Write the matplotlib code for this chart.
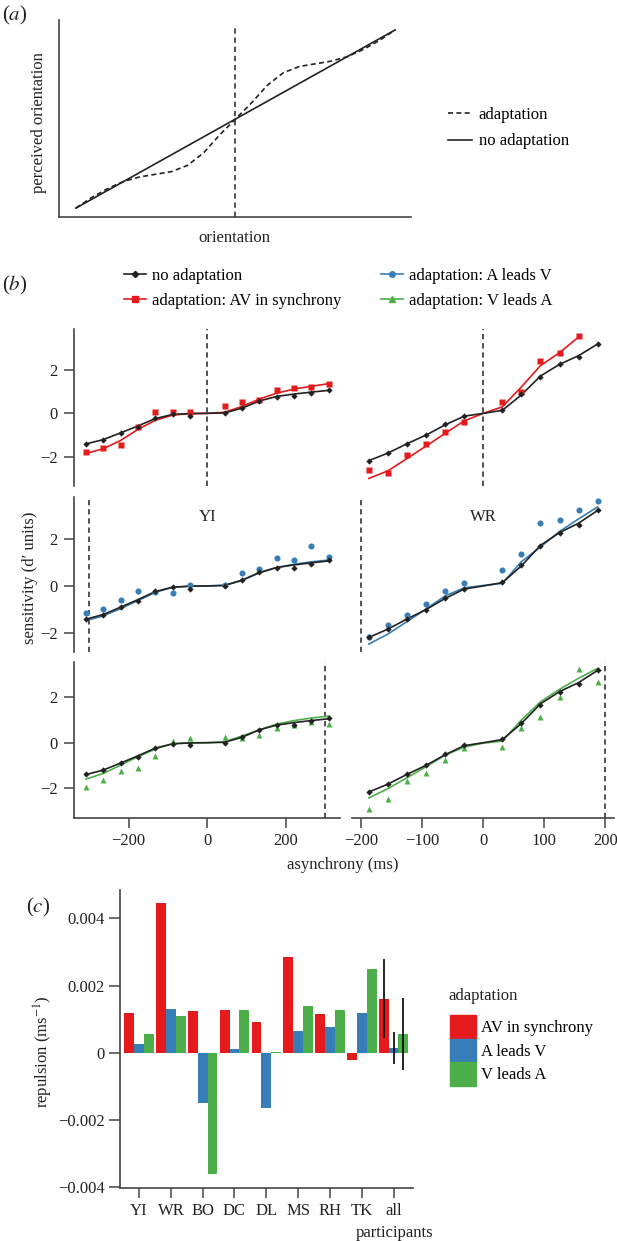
import numpy as np
import matplotlib
matplotlib.use('Agg')
import matplotlib.pyplot as plt
from matplotlib.lines import Line2D
from matplotlib.patches import Patch

plt.rcParams['font.family'] = ['Liberation Serif', 'DejaVu Serif']
plt.rcParams['mathtext.fontset'] = 'stix'
plt.rcParams['font.size'] = 12

RED = '#E41A1C'
BLUE = '#377EB8'
GREEN = '#4DAF4A'
INK = '#222222'
AXC = '#444444'

# ---- (a) schematic ----
orient = [0, 0.05, 0.1, 0.15, 0.2, 0.25, 0.3, 0.35, 0.4, 0.45, 0.5,
          0.55, 0.6, 0.65, 0.7, 0.75, 0.8, 0.85, 0.9, 0.95, 1.0]
perceived_adapt = [0, 0.06, 0.11, 0.15, 0.175, 0.19, 0.205, 0.24, 0.31, 0.41, 0.5,
                   0.59, 0.69, 0.76, 0.795, 0.81, 0.825, 0.85, 0.89, 0.94, 1.0]

# ---- (b) sensitivity data ----
yi_x = [-308.7, -264.6, -220.5, -176.4, -132.3, -88.2, -44.1, 44.1, 88.2, 132.3, 176.4, 220.5, 264.6, 308.7]
yi_cx = [-308.7, -264.6, -220.5, -176.4, -132.3, -88.2, -44.1, 0, 44.1, 88.2, 132.3, 176.4, 220.5, 264.6, 308.7]
yi_none = [-1.40, -1.22, -0.89, -0.63, -0.22, -0.05, -0.11, 0.0, 0.26, 0.58, 0.77, 0.78, 0.95, 1.08]
yi_sync = [-1.78, -1.60, -1.48, -0.65, 0.05, 0.05, 0.05, 0.35, 0.51, 0.63, 1.08, 1.15, 1.20, 1.37]
yi_av = [-1.13, -0.96, -0.59, -0.20, -0.25, -0.31, 0.03, 0.06, 0.55, 0.72, 1.19, 1.12, 1.71, 1.23]
yi_va = [-1.98, -1.67, -1.23, -1.14, -0.58, 0.07, 0.22, 0.27, 0.22, 0.34, 0.66, 0.77, 0.90, 0.81]
yi_fit_none = [-1.41, -1.21, -0.90, -0.58, -0.24, -0.05, -0.01, 0.0, 0.02, 0.24, 0.57, 0.78, 0.89, 0.98, 1.06]
yi_fit_sync = [-1.85, -1.63, -1.25, -0.74, -0.32, -0.08, -0.01, 0.0, 0.05, 0.32, 0.66, 0.93, 1.12, 1.25, 1.37]
yi_fit_av = [-1.47, -1.27, -0.96, -0.62, -0.27, -0.06, -0.01, 0.0, 0.03, 0.24, 0.55, 0.78, 0.92, 1.02, 1.10]
yi_fit_va = [-1.61, -1.36, -0.99, -0.62, -0.28, -0.04, 0.0, 0.0, 0.04, 0.30, 0.57, 0.82, 0.98, 1.09, 1.18]

wr_x = [-187.5, -156.25, -125, -93.75, -62.5, -31.25, 31.25, 62.5, 93.75, 125, 156.25, 187.5]
wr_cx = [-187.5, -156.25, -125, -93.75, -62.5, -31.25, 0, 31.25, 62.5, 93.75, 125, 156.25, 187.5]
wr_none = [-2.18, -1.83, -1.40, -1.00, -0.51, -0.12, 0.15, 0.87, 1.69, 2.26, 2.58, 3.20]
wr_sync = [-2.62, -2.75, -1.92, -1.40, -0.86, -0.40, 0.52, 1.00, 2.43, 2.80, 3.57]
wr_av = [-2.16, -1.67, -1.22, -0.78, -0.23, 0.11, 0.69, 1.37, 2.67, 2.81, 3.20, 3.59]
wr_va = [-2.94, -2.49, -1.68, -1.33, -0.77, -0.25, -0.18, 0.66, 1.12, 2.04, 3.25, 2.67]
wr_fit_none = [-2.18, -1.83, -1.40, -1.00, -0.53, -0.13, 0.0, 0.14, 0.85, 1.72, 2.26, 2.66, 3.20]
wr_fit_sync = [-3.00, -2.65, -2.08, -1.51, -0.92, -0.35, 0.0, 0.30, 1.22, 2.20, 2.80, 3.52]
wr_fit_av = [-2.46, -2.04, -1.51, -0.98, -0.42, -0.08, 0.02, 0.11, 1.03, 1.65, 2.31, 2.84, 3.35]
wr_fit_va = [-2.44, -2.03, -1.55, -1.06, -0.55, -0.19, -0.02, 0.07, 1.00, 1.81, 2.36, 2.85, 3.29]

yi_adapt_lag = [0, -300, 300]
wr_adapt_lag = [0, -200, 200]

# ---- (c) repulsion ----
participants = ['YI', 'WR', 'BO', 'DC', 'DL', 'MS', 'RH', 'TK', 'all']
rep_sync = [0.00117, 0.00445, 0.00124, 0.00127, 0.00092, 0.00286, 0.00115, -0.00022, 0.00161]
rep_av = [0.00026, 0.00131, -0.00148, 0.00010, -0.00164, 0.00066, 0.00076, 0.00119, 0.00014]
rep_va = [0.00056, 0.00110, -0.00361, 0.00127, 0.00001, 0.00140, 0.00126, 0.00249, 0.00056]
all_lo = [0.00043, -0.00032, -0.00052]
all_hi = [0.00279, 0.00062, 0.00163]

W, H = 617, 1241
fig = plt.figure(figsize=(W / 100, H / 100), dpi=100)


def rect(l, t, r, b):
    return [l / W, 1 - b / H, (r - l) / W, (b - t) / H]


# ================= panel (a) =================
ax = fig.add_axes(rect(59, 20, 411, 217))
ax.plot(orient, orient, color=INK, lw=1.2)
ax.plot(orient, perceived_adapt, color=INK, lw=1.2, ls=(0, (3, 2)))
ax.axvline(0.5, ymax=0.975, color=INK, lw=1.1, ls=(0, (3.5, 2.5)))
ax.set_xlim(-0.053, 1.05)
ax.set_ylim(-0.05, 1.056)
for s in ['top', 'right']:
    ax.spines[s].set_visible(False)
for s in ['left', 'bottom']:
    ax.spines[s].set_color(AXC)
    ax.spines[s].set_linewidth(1.2)
ax.set_xticks([])
ax.set_yticks([])
fig.text(39 / W, 1 - 123 / H, 'perceived orientation', rotation=90, ha='center', va='center', color=INK)
fig.text(234.5 / W, 1 - 238 / H, 'orientation', ha='center', va='center', color=INK)
fig.legend(handles=[Line2D([], [], color=INK, lw=1.2, ls=(0, (3, 2))),
                    Line2D([], [], color=INK, lw=1.2)],
           labels=['adaptation', 'no adaptation'], loc='center left',
           bbox_to_anchor=(448 / W, 1 - 128 / H), frameon=False, borderpad=0,
           borderaxespad=0, handlelength=1.45, handletextpad=0.4, labelspacing=0.65)
fig.text(15 / W, 1 - 15 / H, '($a$)', ha='center', va='center', fontsize=15, color=INK)

# ================= panel (b) =================
rows = [(329, 486, (-3.35, 3.89)), (497, 652, (-2.80, 3.77)), (662, 818, (-3.33, 3.57))]
cols = [(74, 340, (-339, 337.4)), (352, 614, (-215.2, 214.3))]

participants_b = [
    dict(x=yi_x, cx=yi_cx, none=yi_none, fit_none=yi_fit_none,
         adapt=[yi_sync, yi_av, yi_va], fits=[yi_fit_sync, yi_fit_av, yi_fit_va],
         lag=yi_adapt_lag, name='YI', ticks=[-200, 0, 200]),
    dict(x=wr_x, cx=wr_cx, none=wr_none, fit_none=wr_fit_none,
         adapt=[wr_sync, wr_av, wr_va], fits=[wr_fit_sync, wr_fit_av, wr_fit_va],
         lag=wr_adapt_lag, name='WR', ticks=[-200, -100, 0, 100, 200]),
]
cond_style = [(RED, 's', 4.2), (BLUE, 'o', 4.4), (GREEN, '^', 5.0)]

for r, (top, bot, ylim) in enumerate(rows):
    for c, (left, right, xlim) in enumerate(cols):
        p = participants_b[c]
        ax = fig.add_axes(rect(left, top, right, bot))
        col, mk, ms = cond_style[r]
        pts = p['adapt'][r]
        fit = p['fits'][r]
        ax.plot(p['cx'][:len(fit)], fit, color=col, lw=1.2, zorder=2)
        ax.plot(p['cx'], p['fit_none'], color=INK, lw=1.2, zorder=3)
        ax.plot(p['x'][:len(pts)], pts, ls='none', marker=mk, ms=ms, color=col, mec='none', zorder=4)
        ax.plot(p['x'], p['none'], ls='none', marker='D', ms=3.2, color=INK, mec='none', zorder=5)
        ax.axvline(p['lag'][r], color=INK, lw=1.1, ls=(0, (3.5, 2.5)), zorder=1)
        ax.set_xlim(xlim)
        ax.set_ylim(ylim)
        for s in ax.spines.values():
            s.set_visible(False)
        ax.tick_params(colors=AXC, labelcolor=INK, length=7, width=1.1, labelsize=12)
        if c == 0:
            ax.spines['left'].set_visible(True)
            ax.spines['left'].set_color(AXC)
            ax.spines['left'].set_linewidth(1.2)
            ax.set_yticks([-2, 0, 2])
            ax.tick_params(axis='y', pad=5)
        else:
            ax.set_yticks([])
        if r == 2:
            ax.spines['bottom'].set_visible(True)
            ax.spines['bottom'].set_color(AXC)
            ax.spines['bottom'].set_linewidth(1.2)
            ax.set_xticks(p['ticks'])
            ax.tick_params(axis='x', pad=4)
        else:
            ax.set_xticks([])
        if r == 1:
            ax.text(0, 2.94, p['name'], ha='center', va='center', fontsize=12, color=INK)

fig.text(30 / W, 1 - 578 / H, 'sensitivity (d\u2032 units)', rotation=90, ha='center', va='center', color=INK)
fig.text(343 / W, 1 - 865 / H, 'asynchrony (ms)', ha='center', va='center', color=INK)
fig.text(15 / W, 1 - 285 / H, '($b$)', ha='center', va='center', fontsize=15, color=INK)

leg_kw = dict(frameon=False, borderpad=0, borderaxespad=0, handlelength=1.3,
              handletextpad=0.4, labelspacing=0.5, loc='center left')
fig.legend(handles=[Line2D([], [], color=INK, lw=1.2, marker='D', ms=3.2),
                    Line2D([], [], color=RED, lw=1.2, marker='s', ms=4.0)],
           labels=['no adaptation', 'adaptation: AV in synchrony'],
           bbox_to_anchor=(124 / W, 1 - 288.5 / H), **leg_kw)
fig.legend(handles=[Line2D([], [], color=BLUE, lw=1.2, marker='o', ms=4.0),
                    Line2D([], [], color=GREEN, lw=1.2, marker='^', ms=4.5)],
           labels=['adaptation: A leads V', 'adaptation: V leads A'],
           bbox_to_anchor=(381 / W, 1 - 288.5 / H), **leg_kw)

# ================= panel (c) =================
ax = fig.add_axes(rect(120, 890, 412.6, 1188))
xg = np.arange(len(participants))
bw = 0.31
ax.bar(xg - bw, rep_sync, width=bw, color=RED, label='AV in synchrony')
ax.bar(xg, rep_av, width=bw, color=BLUE, label='A leads V')
ax.bar(xg + bw, rep_va, width=bw, color=GREEN, label='V leads A')
ax.vlines([xg[-1] - bw, xg[-1], xg[-1] + bw], all_lo, all_hi, color='black', lw=1.2)
ax.set_xlim(-0.6, 8.6)
ax.set_ylim(-0.00402, 0.00484)
ax.set_xticks(xg)
ax.set_xticklabels(participants)
ax.set_yticks([-0.004, -0.002, 0, 0.002, 0.004])
ax.set_yticklabels(['\u22120.004', '\u22120.002', '0', '0.002', '0.004'])
for s in ['top', 'right']:
    ax.spines[s].set_visible(False)
for s in ['left', 'bottom']:
    ax.spines[s].set_color(AXC)
    ax.spines[s].set_linewidth(1.2)
ax.tick_params(colors=AXC, labelcolor=INK, width=1.1, labelsize=12)
ax.tick_params(axis='y', length=8, pad=3)
ax.tick_params(axis='x', length=7, pad=4)
fig.text(395 / W, 1 - 1233 / H, 'participants', ha='center', va='center', color=INK)
fig.text(43 / W, 1 - 1052 / H, 'repulsion (ms$^{-1}$)', rotation=90, ha='center', va='center', color=INK)
fig.text(38.5 / W, 1 - 907 / H, '($c$)', ha='center', va='center', fontsize=15, color=INK)
fig.text(448 / W, 1 - 996 / H, 'adaptation', ha='left', va='center', color=INK)
fig.legend(handles=[Patch(color=RED), Patch(color=BLUE), Patch(color=GREEN)],
           labels=['AV in synchrony', 'A leads V', 'V leads A'],
           loc='upper left', bbox_to_anchor=(450 / W, 1 - 1015 / H), frameon=False,
           borderpad=0, borderaxespad=0, handlelength=1.56, handleheight=1.8,
           handletextpad=0.3, labelspacing=0)

fig.savefig('out.png', dpi=100)
